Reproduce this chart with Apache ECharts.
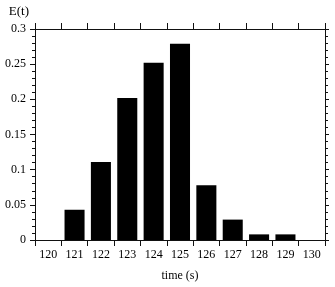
<!DOCTYPE html>
<html>
<head>
<meta charset="utf-8">
<script src="https://cdn.jsdelivr.net/npm/echarts@6/dist/echarts.min.js"></script>
<style>
  html, body { margin: 0; padding: 0; background: #fff; }
  #chart { width: 335px; height: 287px; }
</style>
</head>
<body>
<div id="chart"></div>
<script>
// time bins (s) and E(t)
const times = ['120', '121', '122', '123', '124', '125', '126', '127', '128', '129', '130'];
const eValues = [0, 0.043, 0.111, 0.202, 0.252, 0.279, 0.078, 0.029, 0.008, 0.008, 0];
// top frame ticks sit on the bin edges: 120 .. 131
const binEdgeMin = 120;
const binEdgeMax = 131;

const chart = echarts.init(document.getElementById('chart'));
const font = 'Liberation Serif';
const axisColor = '#111';

chart.setOption({
  backgroundColor: '#fff',
  animation: false,
  textStyle: { fontFamily: font },
  grid: { left: 35, right: 10, top: 29, bottom: 43 },
  xAxis: [
    {
      type: 'category',
      data: times,
      position: 'bottom',
      name: 'time (s)',
      nameLocation: 'middle',
      nameGap: 30,
      nameTextStyle: { fontFamily: font, fontSize: 12, color: '#000' },
      axisLine: { onZero: false, lineStyle: { color: axisColor, width: 1 } },
      axisTick: { show: true, length: 6, lineStyle: { color: axisColor } },
      axisLabel: { fontFamily: font, fontSize: 12, color: '#000', margin: 9 },
      splitLine: { show: false }
    },
    {
      // category axis on top would not draw, so a plain value axis over the bin edges
      type: 'value',
      min: binEdgeMin,
      max: binEdgeMax,
      interval: 1,
      position: 'top',
      axisLine: { show: true, onZero: false, lineStyle: { color: axisColor, width: 1 } },
      axisTick: { show: true, length: 6, lineStyle: { color: axisColor } },
      axisLabel: { show: false },
      splitLine: { show: false }
    }
  ],
  yAxis: [
    {
      type: 'value',
      min: 0,
      max: 0.3,
      interval: 0.05,
      position: 'left',
      name: 'E(t)',
      nameLocation: 'end',
      nameGap: 11,
      nameTextStyle: { fontFamily: font, fontSize: 13, color: '#000', align: 'right', padding: [0, 6, 0, 0] },
      axisLine: { show: true, onZero: false, lineStyle: { color: axisColor, width: 1 } },
      axisTick: { show: true, length: 5, lineStyle: { color: axisColor } },
      minorTick: { show: true, splitNumber: 5, length: 3, lineStyle: { color: axisColor } },
      axisLabel: { fontFamily: font, fontSize: 12, color: '#000', margin: 9 },
      splitLine: { show: false }
    },
    {
      type: 'value',
      min: 0,
      max: 0.3,
      interval: 0.05,
      position: 'right',
      axisLine: { show: true, onZero: false, lineStyle: { color: axisColor, width: 1 } },
      axisTick: { show: true, length: 4, lineStyle: { color: axisColor } },
      minorTick: { show: true, splitNumber: 5, length: 3, lineStyle: { color: axisColor } },
      axisLabel: { show: false },
      splitLine: { show: false }
    }
  ],
  series: [
    {
      type: 'bar',
      data: eValues,
      xAxisIndex: 0,
      yAxisIndex: 0,
      barCategoryGap: '24%',
      itemStyle: { color: '#000' }
    }
  ]
});
</script>
</body>
</html>
